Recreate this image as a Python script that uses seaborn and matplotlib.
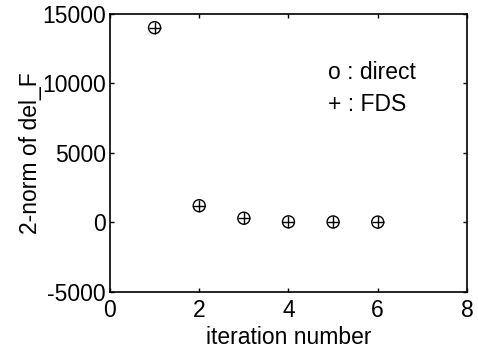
import matplotlib
matplotlib.use("Agg")
import matplotlib.pyplot as plt
import seaborn as sns
import pandas as pd

# iteration numbers and 2-norm of del_F for both methods
iterations = [1, 2, 3, 4, 5, 6]
direct_norm = [14000, 1200, 300, 40, 30, 20]
fds_norm = [14000, 1200, 300, 40, 30, 20]

x_ticks = [0, 2, 4, 6, 8]
y_ticks = [-5000, 0, 5000, 10000, 15000]

sns.set_style("ticks")
plt.rcParams['font.family'] = ['Liberation Sans', 'DejaVu Sans']
plt.rcParams['axes.unicode_minus'] = False
plt.rcParams['text.color'] = 'black'
plt.rcParams['axes.labelcolor'] = 'black'

df = pd.DataFrame({"iteration": iterations, "direct": direct_norm, "fds": fds_norm})

fig = plt.figure(figsize=(4.78, 3.53), dpi=100)
ax = fig.add_axes([0.230, 0.173, 0.747, 0.788])

# open circles (direct) and plus signs (FDS) drawn on top of each other
sns.scatterplot(data=df, x="iteration", y="direct", ax=ax, marker="o", s=75,
                facecolor="none", edgecolor="black", linewidth=1.0)
sns.scatterplot(data=df, x="iteration", y="fds", ax=ax, marker="+", s=75,
                color="black", linewidth=1.0)

ax.set_xlim(0, 8)
ax.set_ylim(-5000, 15000)
ax.set_xticks(x_ticks)
ax.set_yticks(y_ticks)
ax.tick_params(axis="both", direction="in", top=True, right=True, length=3, width=1,
               labelsize=16.5, colors="black")
ax.tick_params(axis="x", pad=5)
ax.tick_params(axis="y", pad=3)
for sp in ax.spines.values():
    sp.set_visible(True)
    sp.set_linewidth(1.2)
    sp.set_color("black")

ax.set_xlabel("iteration number", fontsize=16.5, labelpad=3)
ax.set_ylabel("2-norm of del_F", fontsize=16.5, labelpad=0)

ax.text(4.88, 10800, "o : direct", fontsize=16.5, va="center", ha="left")
ax.text(4.88, 8450, "+ : FDS", fontsize=16.5, va="center", ha="left")

fig.savefig("out.png", dpi=100)
